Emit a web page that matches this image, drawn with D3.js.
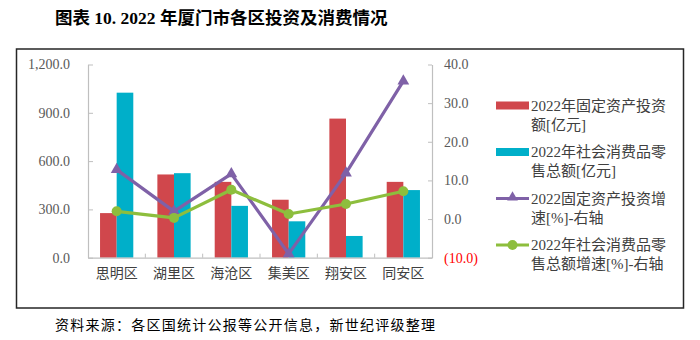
<!DOCTYPE html>
<html><head><meta charset="utf-8">
<script src="https://cdn.jsdelivr.net/npm/d3@7"></script>
<style>
body{margin:0;background:#fff;}
svg{display:block;}
</style></head>
<body>
<svg id="c" width="700" height="340"></svg>
<script>
const categories = ["思明区","湖里区","海沧区","集美区","翔安区","同安区"];
const fixedInvest = [277, 517, 471, 360, 864, 471];
const retailSales = [1025, 525, 322, 226, 135, 420];
const investGrowth = [12.8, 2.0, 11.7, -9.0, 11.9, 35.7];
const retailGrowth = [2.0, 0.3, 7.6, 1.3, 3.9, 7.2];
const leftTicks = [0, 300, 600, 900, 1200];
const rightTicks = [-10, 0, 10, 20, 30, 40];
const seriesNames = ["2022年固定资产投资额[亿元]","2022年社会消费品零售总额[亿元]","2022固定资产投资增速[%]-右轴","2022年社会消费品零售总额增速[%]-右轴"];
const legendLines = [["2022年固定资产投资","额[亿元]"],["2022年社会消费品零","售总额[亿元]"],["2022固定资产投资增","速[%]-右轴"],["2022年社会消费品零","售总额增速[%]-右轴"]];
const colors = ["#d0474c","#00afc9","#7f61a7","#8dbe3d"];

const svg = d3.select("#c");
const serif = "'Liberation Serif','Times New Roman','Noto Serif CJK SC','Noto Sans CJK SC',serif";
const cjk = "'Liberation Serif','Noto Sans CJK SC',serif";

// title
svg.append("text").attr("x",55).attr("y",24).attr("font-family",cjk).attr("font-weight","bold")
  .attr("font-size",17.5).attr("fill","#000").text("图表 10. 2022 年厦门市各区投资及消费情况");

// frame
svg.append("rect").attr("x",16.5).attr("y",49).attr("width",667).attr("height",259)
  .attr("fill","none").attr("stroke","#262626").attr("stroke-width",1.5);

const L=88, R=432, T=64.5, B=257.7;
const x = d3.scaleBand().domain(categories).range([L,R]).paddingInner(0.42).paddingOuter(0.21);
const x1 = d3.scaleBand().domain([0,1]).range([0,x.bandwidth()]);
const yL = d3.scaleLinear().domain([0,1200]).range([B,T]);
const yR = d3.scaleLinear().domain([-10,40]).range([B,T]);

// bars
const barSeries = [fixedInvest, retailSales];
barSeries.forEach((vals,si)=>{
  svg.append("g").selectAll("rect").data(vals).join("rect")
    .attr("x",(d,i)=>x(categories[i])+x1(si))
    .attr("y",d=>yL(d))
    .attr("width",x1.bandwidth())
    .attr("height",d=>B-yL(d))
    .attr("fill",colors[si]);
});

// axes
const axisColor="#bfbfbf", labelColor="#595959";
const gL = svg.append("g").attr("transform",`translate(${L},0)`)
  .call(d3.axisLeft(yL).tickValues(leftTicks).tickSizeInner(-5).tickSizeOuter(0).tickPadding(18).tickFormat(d3.format(",.1f")));
const gR = svg.append("g").attr("transform",`translate(${R},0)`)
  .call(d3.axisRight(yR).tickValues(rightTicks).tickSizeInner(-4).tickSizeOuter(0).tickPadding(12)
    .tickFormat(d=> d<0 ? "("+d3.format(".1f")(-d)+")" : d3.format(".1f")(d)));
const gB = svg.append("g").attr("transform",`translate(0,${B})`)
  .call(d3.axisBottom(x).tickSize(0).tickPadding(10));
[gL,gR,gB].forEach(g=>{
  g.select(".domain").attr("stroke",axisColor).attr("stroke-width",1.2);
  g.selectAll(".tick line").attr("stroke",axisColor);
  g.selectAll("text").attr("font-family",serif).attr("font-size",14).attr("fill",labelColor);
});
gB.selectAll("text").attr("font-family",cjk).attr("font-size",14).attr("fill","#404040");
gR.selectAll(".tick text").attr("fill",d=> d<0 ? "#ff0000" : labelColor);
// category boundary ticks
const bounds = categories.slice(1).map(c=>x(c)-x.step()*x.paddingInner()/2);
svg.append("g").selectAll("line").data(bounds).join("line")
  .attr("x1",d=>d).attr("x2",d=>d).attr("y1",B).attr("y2",B-4).attr("stroke",axisColor);

// lines
const cx = (d,i)=>x(categories[i])+x.bandwidth()/2;
const lineGen = d3.line().x(cx).y(d=>yR(d));
svg.append("path").datum(investGrowth).attr("d",lineGen).attr("fill","none")
  .attr("stroke",colors[2]).attr("stroke-width",3.2).attr("stroke-linejoin","round");
svg.append("g").selectAll("path").data(investGrowth).join("path")
  .attr("transform",(d,i)=>`translate(${cx(d,i)},${yR(d)})`)
  .attr("d",d3.symbol(d3.symbolTriangle,60)).attr("fill",colors[2]);
svg.append("path").datum(retailGrowth).attr("d",lineGen).attr("fill","none")
  .attr("stroke",colors[3]).attr("stroke-width",3.2).attr("stroke-linejoin","round");
svg.append("g").selectAll("circle").data(retailGrowth).join("circle")
  .attr("cx",cx).attr("cy",d=>yR(d)).attr("r",5).attr("fill",colors[3]);

// legend
const legY = [105.5, 152, 198.5, 245];
const lg = svg.append("g");
legendLines.forEach((lines,i)=>{
  const y = legY[i];
  if(i<2){
    lg.append("rect").attr("x",496).attr("y",y-4).attr("width",33).attr("height",8).attr("fill",colors[i]);
  } else {
    lg.append("line").attr("x1",496).attr("x2",529).attr("y1",y).attr("y2",y).attr("stroke",colors[i]).attr("stroke-width",3);
    if(i===2) lg.append("path").attr("transform",`translate(512.5,${y-1})`).attr("d",d3.symbol(d3.symbolTriangle,50)).attr("fill",colors[i]);
    else lg.append("circle").attr("cx",512.5).attr("cy",y).attr("r",5).attr("fill",colors[i]);
  }
  lines.forEach((t,j)=>{
    lg.append("text").attr("x",531).attr("y",y+5+j*19).attr("font-family",cjk).attr("font-size",15)
      .attr("fill","#404040").text(t);
  });
});

// source
svg.append("text").attr("x",55).attr("y",330).attr("font-family",cjk).attr("font-size",14)
  .attr("fill","#000").attr("textLength",380).attr("lengthAdjust","spacing")
  .text("资料来源：各区国统计公报等公开信息，新世纪评级整理");
</script>
</body></html>
